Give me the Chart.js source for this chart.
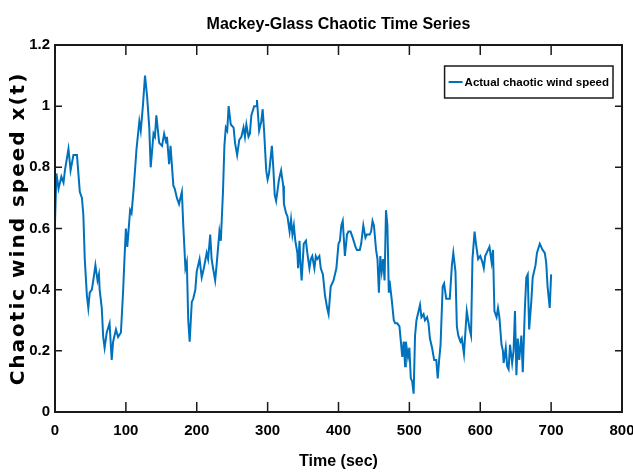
<!DOCTYPE html>
<html>
<head>
<meta charset="utf-8">
<title>Mackey-Glass Chaotic Time Series</title>
<script src="https://cdn.jsdelivr.net/npm/chart.js@4.4.0/dist/chart.umd.min.js"></script>
<style>
  html, body { margin: 0; padding: 0; background: #ffffff; }
  #wrap { width: 633px; height: 474px; }
</style>
</head>
<body>
<div id="wrap"><canvas id="chart" width="633" height="474"></canvas></div>
<script>
// Time axis (seconds)
const timeSec = [
  0, 2, 5, 9, 12, 14, 19, 22, 26, 31, 33, 35, 38, 40, 42, 45, 47, 49, 52, 54,
  57, 60, 62, 63, 66, 68, 70, 73, 77, 80, 82, 86, 89, 93, 96, 98, 100, 102, 106, 108,
  111, 115, 119, 121, 124, 127, 130, 133, 135, 139, 141, 143, 147, 151, 154, 157, 158, 161, 163, 167,
  169, 172, 175, 179, 181, 184, 186, 188, 190, 193, 195, 198, 200, 204, 207, 210, 214, 216, 219, 221,
  223, 226, 228, 232, 234, 237, 239, 241, 243, 245, 248, 252, 254, 257, 260, 263, 266, 268, 270, 273,
  275, 277, 281, 284, 285, 288, 291, 293, 295, 298, 300, 302, 306, 308, 310, 312, 316, 319, 322, 323,
  326, 328, 331, 333, 335, 337, 339, 342, 343, 345, 346, 348, 351, 354, 356, 359, 361, 363, 366, 368,
  370, 373, 375, 378, 381, 384, 386, 389, 393, 397, 400, 402, 404, 406, 409, 412, 414, 417, 420, 424,
  426, 430, 432, 435, 438, 440, 444, 446, 448, 450, 453, 455, 457, 459, 461, 463, 465, 467, 469, 471,
  472, 475, 478, 480, 483, 486, 488, 490, 492, 494, 495, 498, 500, 502, 504, 506, 508, 510, 513, 515,
  517, 520, 522, 525, 527, 529, 532, 535, 538, 540, 542, 544, 547, 549, 552, 555, 557, 560, 562, 565,
  567, 569, 572, 574, 577, 581, 585, 587, 589, 592, 594, 597, 600, 603, 605, 607, 611, 613, 616, 618,
  620, 623, 625, 627, 630, 632, 633, 636, 638, 640, 642, 645, 647, 649, 651, 653, 655, 658, 660, 663,
  665, 667, 669, 672, 674, 678, 680, 684, 686, 688, 691, 693, 695, 698, 700
];

// Chaotic wind speed x(t)
const windSpeed = [
  0.62, 0.78, 0.73, 0.77, 0.75, 0.79, 0.86, 0.79, 0.84, 0.84, 0.78, 0.72, 0.70, 0.645, 0.50, 0.38, 0.34, 0.39, 0.40, 0.43,
  0.48, 0.43, 0.45, 0.40, 0.34, 0.245, 0.21, 0.26, 0.29, 0.17, 0.23, 0.27, 0.245, 0.26, 0.39, 0.50, 0.60, 0.54, 0.66, 0.65,
  0.73, 0.86, 0.95, 0.92, 1.00, 1.10, 1.03, 0.93, 0.80, 0.91, 0.90, 0.97, 0.88, 0.87, 0.91, 0.88, 0.90, 0.81, 0.87, 0.74,
  0.73, 0.70, 0.68, 0.72, 0.61, 0.47, 0.49, 0.30, 0.23, 0.36, 0.37, 0.40, 0.46, 0.50, 0.44, 0.47, 0.52, 0.50, 0.58, 0.50,
  0.47, 0.43, 0.48, 0.59, 0.56, 0.72, 0.87, 0.93, 0.92, 1.00, 0.94, 0.93, 0.88, 0.84, 0.89, 0.90, 0.93, 0.90, 0.94, 0.90,
  0.91, 0.97, 1.00, 1.00, 1.02, 0.92, 0.95, 0.99, 0.92, 0.79, 0.76, 0.78, 0.87, 0.80, 0.71, 0.69, 0.76, 0.79, 0.74, 0.68,
  0.65, 0.64, 0.59, 0.63, 0.58, 0.61, 0.56, 0.52, 0.47, 0.56, 0.50, 0.43, 0.55, 0.56, 0.52, 0.47, 0.50, 0.51, 0.47, 0.51,
  0.50, 0.51, 0.47, 0.45, 0.38, 0.34, 0.32, 0.41, 0.43, 0.47, 0.55, 0.56, 0.61, 0.625, 0.51, 0.58, 0.59, 0.59, 0.57, 0.54,
  0.53, 0.53, 0.55, 0.61, 0.57, 0.58, 0.58, 0.59, 0.625, 0.61, 0.53, 0.50, 0.39, 0.51, 0.46, 0.50, 0.43, 0.66, 0.61, 0.39,
  0.43, 0.37, 0.30, 0.29, 0.29, 0.28, 0.23, 0.18, 0.23, 0.15, 0.23, 0.18, 0.21, 0.11, 0.10, 0.06, 0.25, 0.30, 0.33, 0.35,
  0.31, 0.32, 0.30, 0.31, 0.29, 0.24, 0.21, 0.17, 0.17, 0.11, 0.17, 0.22, 0.41, 0.42, 0.37, 0.37, 0.37, 0.48, 0.52, 0.46,
  0.28, 0.25, 0.23, 0.24, 0.19, 0.33, 0.27, 0.25, 0.50, 0.59, 0.55, 0.50, 0.51, 0.49, 0.47, 0.51, 0.53, 0.54, 0.49, 0.53,
  0.33, 0.31, 0.34, 0.31, 0.22, 0.20, 0.16, 0.21, 0.15, 0.14, 0.22, 0.16, 0.20, 0.33, 0.12, 0.24, 0.17, 0.25, 0.13, 0.34,
  0.44, 0.45, 0.27, 0.36, 0.44, 0.48, 0.52, 0.55, 0.54, 0.53, 0.52, 0.49, 0.41, 0.34, 0.45
];

const seriesLabel = 'Actual chaotic wind speed';
const chartTitle = 'Mackey-Glass Chaotic Time Series';
const xTitle = 'Time (sec)';
const yTitle = 'Chaotic wind speed x(t)';

const SANS = "'Liberation Sans', Arial, Helvetica, sans-serif";
const WIDE = "'DejaVu Sans', Verdana, sans-serif";
const INK = '#1a1a1a';
const LINE_BLUE = '#0072BD';

// Box around the plot area with inward-pointing ticks on all four sides
const framedAxes = {
  id: 'framedAxes',
  afterDatasetsDraw(chart) {
    const { ctx, chartArea: a, scales: { x, y } } = chart;
    ctx.save();
    ctx.strokeStyle = INK;
    ctx.lineWidth = 1.5;
    ctx.beginPath();
    x.ticks.forEach(t => {
      const px = x.getPixelForValue(t.value);
      ctx.moveTo(px, a.bottom); ctx.lineTo(px, a.bottom - 10);
      ctx.moveTo(px, a.top); ctx.lineTo(px, a.top + 10);
    });
    y.ticks.forEach(t => {
      const py = y.getPixelForValue(t.value);
      ctx.moveTo(a.left, py); ctx.lineTo(a.left + 7, py);
      ctx.moveTo(a.right, py); ctx.lineTo(a.right - 7, py);
    });
    ctx.stroke();
    ctx.lineWidth = 2;
    ctx.strokeRect(a.left, a.top, a.right - a.left, a.bottom - a.top);
    ctx.restore();
  }
};

// Spaced-out lettering for the vertical axis title
const spacedYTitle = {
  id: 'spacedYTitle',
  beforeDraw(chart, args, opts) {
    const s = chart.scales.y;
    if (!s || s._spacedTitle) return;
    const base = s.drawTitle;
    s.drawTitle = function () {
      const c = this.ctx;
      c.save();
      c.letterSpacing = opts.spacing;
      base.call(this);
      c.restore();
    };
    s._spacedTitle = true;
  }
};

// Framed legend in the upper right corner of the plot area
const boxedLegend = {
  id: 'boxedLegend',
  afterDraw(chart) {
    const ds = chart.data.datasets[0];
    const { ctx, chartArea: a } = chart;
    ctx.save();
    ctx.font = 'bold 11.5px ' + SANS;
    const tw = ctx.measureText(ds.label).width;
    const padL = 4, lineLen = 14, gap = 2, padR = 4, h = 32;
    const w = padL + lineLen + gap + tw + padR;
    const right = a.right - 9, top = a.top + 21, left = right - w;
    ctx.fillStyle = '#ffffff';
    ctx.fillRect(left, top, w, h);
    ctx.strokeStyle = INK;
    ctx.lineWidth = 1.5;
    ctx.strokeRect(left, top, w, h);
    const cy = top + h / 2;
    ctx.strokeStyle = ds.borderColor;
    ctx.lineWidth = 2;
    ctx.beginPath();
    ctx.moveTo(left + padL, cy); ctx.lineTo(left + padL + lineLen, cy);
    ctx.stroke();
    ctx.fillStyle = '#000000';
    ctx.textBaseline = 'middle';
    ctx.textAlign = 'left';
    ctx.fillText(ds.label, left + padL + lineLen + gap, cy + 1);
    ctx.restore();
  }
};

new Chart(document.getElementById('chart'), {
  type: 'line',
  data: {
    datasets: [{
      label: seriesLabel,
      data: timeSec.map((t, i) => ({ x: t, y: windSpeed[i] })),
      borderColor: LINE_BLUE,
      backgroundColor: LINE_BLUE,
      borderWidth: 2,
      pointRadius: 0,
      tension: 0,
      fill: false
    }]
  },
  options: {
    responsive: false,
    animation: false,
    devicePixelRatio: 1,
    layout: { padding: { left: 0, right: 11, top: 0, bottom: 0 } },
    plugins: {
      legend: { display: false },
      tooltip: { enabled: false },
      spacedYTitle: { spacing: '2px' },
      title: {
        display: true,
        fullSize: false,
        text: chartTitle,
        color: '#000000',
        font: { family: SANS, size: 16, weight: 'bold' },
        padding: { top: 15, bottom: 10.8 }
      }
    },
    scales: {
      x: {
        type: 'linear',
        min: 0, max: 800,
        border: { display: false },
        grid: { display: false, drawTicks: false },
        ticks: {
          stepSize: 100,
          color: '#000000',
          padding: 10,
          maxRotation: 0,
          font: { family: SANS, size: 15, weight: 'bold' }
        },
        title: {
          display: true,
          text: xTitle,
          color: '#000000',
          font: { family: SANS, size: 16, weight: 'bold' },
          padding: { top: 0, bottom: 3 }
        },
        afterFit(scale) { scale.height = 62; scale.paddingLeft = 0; scale.paddingRight = 0; }
      },
      y: {
        min: 0, max: 1.2,
        border: { display: false },
        grid: { display: false, drawTicks: false },
        ticks: {
          stepSize: 0.2,
          color: '#000000',
          padding: 5,
          font: { family: SANS, size: 15, weight: 'bold' },
          callback: (v) => String(Number(v.toFixed(1)))
        },
        title: {
          display: true,
          text: yTitle,
          color: '#000000',
          font: { family: WIDE, size: 20, weight: 'bold' },
          padding: { top: 7, bottom: 0 }
        },
        afterFit(scale) { scale.width = 55; scale.paddingTop = 0; scale.paddingBottom = 0; }
      }
    }
  },
  plugins: [framedAxes, spacedYTitle, boxedLegend]
});
</script>
</body>
</html>
